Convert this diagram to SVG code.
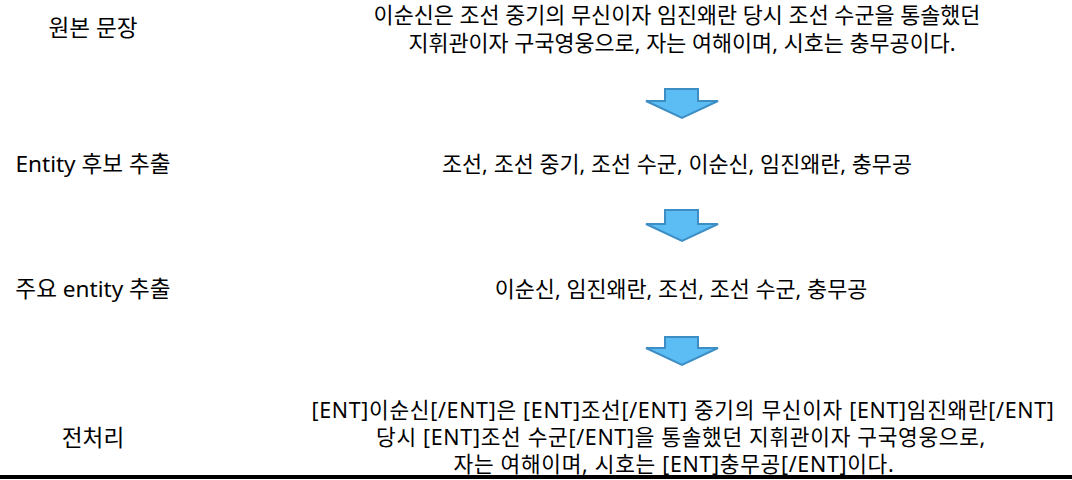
<svg xmlns="http://www.w3.org/2000/svg" width="1072" height="480" viewBox="0 0 1072 480">
<style>
.t{font-family:"Noto Sans","Noto Sans CJK KR",sans-serif;font-size:21.8px;fill:#000;text-anchor:middle}
.l{font-size:22.6px}
.p{font-size:21.4px;letter-spacing:0.7px}
.arr{fill:#5BBDF3;stroke:#3D8EC4;stroke-width:2;stroke-linejoin:miter}
</style>
<rect width="1072" height="480" fill="#fff"/>
<g id="labels">
<text class="t l" x="93" y="36">원본 문장</text>
<text class="t l" x="93" y="172">Entity 후보 추출</text>
<text class="t l" x="93" y="297">주요 entity 추출</text>
<text class="t l" x="93" y="446">전처리</text>
</g>
<g id="node-original">
<text class="t"><tspan x="677" y="23">이순신은 조선 중기의 무신이자 임진왜란 당시 조선 수군을 통솔했던</tspan><tspan x="682" y="51">지휘관이자 구국영웅으로, 자는 여해이며, 시호는 충무공이다.</tspan></text>
</g>
<g id="node-candidates">
<text class="t" x="677" y="172">조선, 조선 중기, 조선 수군, 이순신, 임진왜란, 충무공</text>
</g>
<g id="node-main">
<text class="t" x="681" y="297">이순신, 임진왜란, 조선, 조선 수군, 충무공</text>
</g>
<g id="node-preprocessed">
<text class="t p"><tspan x="683" y="418">[ENT]이순신[/ENT]은 [ENT]조선[/ENT] 중기의 무신이자 [ENT]임진왜란[/ENT]</tspan><tspan x="681" y="445">당시 [ENT]조선 수군[/ENT]을 통솔했던 지휘관이자 구국영웅으로,</tspan><tspan x="674" y="472">자는 여해이며, 시호는 [ENT]충무공[/ENT]이다.</tspan></text>
</g>
<g id="connectors">
<polygon class="arr" points="665,89 698,89 698,101 718,101 682,118 646,101 665,101"/>
<polygon class="arr" points="665,210 698,210 698,224 718,224 682,241 646,224 665,224"/>
<polygon class="arr" points="665,337 698,337 698,348 718,348 682,365 646,348 665,348"/>
</g>
<rect x="0" y="475" width="1072" height="4" fill="#000"/>
</svg>
